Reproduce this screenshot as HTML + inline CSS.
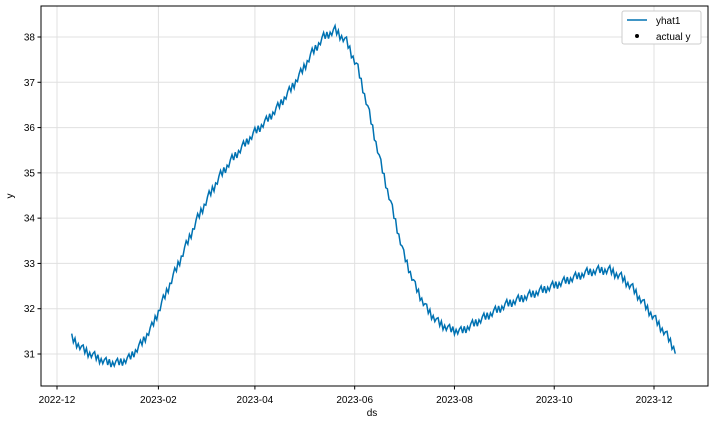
<!DOCTYPE html>
<html><head><meta charset="utf-8"><style>
html,body{margin:0;padding:0;background:#fff;}
svg{display:block;font-family:"Liberation Sans","DejaVu Sans",sans-serif;}
</style></head><body>
<svg id="chart" width="712" height="424">
<g id="grid"></g>
<g id="axes"></g>
<path id="line" fill="none" stroke="#0072B2" stroke-width="1.5" stroke-linejoin="miter"/>
<rect x="41" y="6" width="667" height="380" fill="none" stroke="#000" stroke-width="1"/>
<text x="372" y="416" font-size="10" text-anchor="middle">ds</text>
<text x="13" y="196" font-size="10" text-anchor="middle" transform="rotate(-90 13 196)">y</text>
<g>
<rect x="622" y="11" width="79" height="33" rx="2" fill="#fff" stroke="#ccc"/>
<g><line x1="627" y1="20" x2="647" y2="20" stroke="#0072B2" stroke-width="1.6"/><text x="656" y="24" font-size="10">yhat1</text></g>
<g><circle cx="637" cy="36" r="2" fill="#000"/><text x="656" y="40" font-size="10">actual y</text></g>
</g>
</svg>
<script>
const startDate = "2022-12-10";
const weeklyTrend = [31.35,31.1,30.95,30.82,30.8,30.9,31.2,31.6,32.2,32.8,33.4,34.0,34.5,34.95,35.3,35.6,35.9,36.15,36.45,36.8,37.2,37.65,38.0,38.15,37.9,37.3,36.3,35.2,34.2,33.2,32.5,32.0,31.7,31.55,31.5,31.65,31.8,31.95,32.1,32.2,32.3,32.4,32.5,32.6,32.7,32.8,32.85,32.85,32.7,32.45,32.1,31.75,31.4,30.95];
const weeklyEffect = [0.1,-0.06,0.07,-0.1,0.02,-0.07,0.04];
const numDays = 370;
const yTicks = [31,32,33,34,35,36,37,38];
const xTickLabels = ["2022-12","2023-02","2023-04","2023-06","2023-08","2023-10","2023-12"];

const L=41,R=708,T=6,B=386;
const dayMs=86400000, ref=Date.UTC(2022,11,1);
function xScale(ms){return 57+(ms-ref)/dayMs*(597/365);}
function yScale(v){return 354-(v-31)*(317/7);}
const ns="http://www.w3.org/2000/svg";
const grid=document.getElementById('grid'), axes=document.getElementById('axes');
yTicks.forEach(v=>{
  const y=yScale(v);
  const g=document.createElementNS(ns,'line');
  g.setAttribute('x1',L);g.setAttribute('x2',R);g.setAttribute('y1',y);g.setAttribute('y2',y);
  g.setAttribute('stroke','#e0e0e0');
  
  
  grid.appendChild(g);
  const t=document.createElementNS(ns,'line');
  t.setAttribute('x1',L-3.5);t.setAttribute('x2',L);t.setAttribute('y1',y);t.setAttribute('y2',y);t.setAttribute('stroke','#000');
  
  
  axes.appendChild(t);
  const tx=document.createElementNS(ns,'text');
  tx.setAttribute('x',L-6);tx.setAttribute('y',y+3.5);tx.setAttribute('font-size','10');tx.setAttribute('text-anchor','end');
  tx.textContent=v;
  
  
  axes.appendChild(tx);
});
xTickLabels.forEach(s=>{
  const [yy,mm]=s.split('-').map(Number);
  const x=xScale(Date.UTC(yy,mm-1,1));
  const g=document.createElementNS(ns,'line');
  g.setAttribute('x1',x);g.setAttribute('x2',x);g.setAttribute('y1',T);g.setAttribute('y2',B);
  g.setAttribute('stroke','#e0e0e0');
  
  
  grid.appendChild(g);
  const t=document.createElementNS(ns,'line');
  t.setAttribute('x1',x);t.setAttribute('x2',x);t.setAttribute('y1',B);t.setAttribute('y2',B+3.5);t.setAttribute('stroke','#000');
  
  
  axes.appendChild(t);
  const tx=document.createElementNS(ns,'text');
  tx.setAttribute('x',x);tx.setAttribute('y',B+17);tx.setAttribute('font-size','10');tx.setAttribute('text-anchor','middle');
  tx.textContent=s;
  
  
  axes.appendChild(tx);
});
const s0=Date.parse(startDate+"T00:00:00Z");
let d="";
for(let i=0;i<numDays;i++){
  const w=i/7, k=Math.min(Math.floor(w),weeklyTrend.length-2), f=w-k;
  const v=weeklyTrend[k]*(1-f)+weeklyTrend[k+1]*f+weeklyEffect[i%7];
  d+=(i?"L":"M")+xScale(s0+i*dayMs).toFixed(2)+","+yScale(v).toFixed(2);
}
document.getElementById('line').setAttribute('d',d);
</script>
</body></html>
